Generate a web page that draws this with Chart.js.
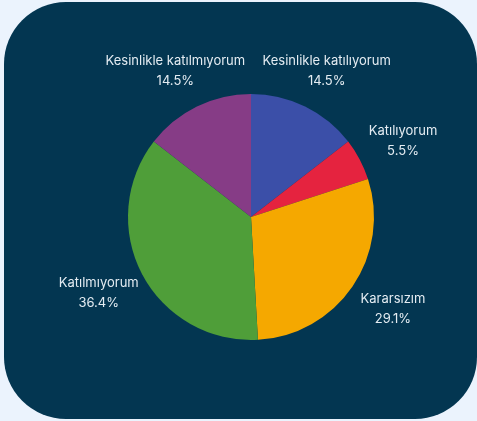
<!DOCTYPE html>
<html>
<head>
<meta charset="utf-8">
<script src="https://cdn.jsdelivr.net/npm/chart.js@4"></script>
<style>
  html, body { margin: 0; padding: 0; background: #ebf3fd; }
  #wrap { position: relative; width: 477px; height: 421px; overflow: hidden; }
  #card {
    position: absolute; left: 4px; top: 2px; width: 473px; height: 417px;
    background: #033651; border-radius: 62px;
  }
  #cv { position: absolute; left: 0; top: 0; }
</style>
</head>
<body>
<div id="wrap">
  <div id="card"></div>
  <canvas id="cv" width="477" height="421"></canvas>
</div>
<script>
const categories = [
  "Kesinlikle katılıyorum",
  "Katılıyorum",
  "Kararsızım",
  "Katılmıyorum",
  "Kesinlikle katılmıyorum"
];
const values = [14.5, 5.5, 29.1, 36.4, 14.5];
const colors = ["#3b4fa8", "#e5233f", "#f5a800", "#4f9e39", "#863c86"];

// labels outside each slice: name on top, percent under it
const outsideLabels = {
  id: "outsideLabels",
  afterDatasetsDraw(chart) {
    const ctx = chart.ctx;
    const arcs = chart.getDatasetMeta(0).data;
    ctx.save();
    ctx.fillStyle = "#e4ecf2";
    ctx.font = "13px Inter, 'Noto Sans', sans-serif";
    ctx.textAlign = "center";
    ctx.textBaseline = "middle";
    arcs.forEach((arc, i) => {
      const mid = (arc.startAngle + arc.endAngle) / 2;
      const x = arc.x + Math.cos(mid) * (arc.outerRadius + 49);
      const y = arc.y + Math.sin(mid) * (arc.outerRadius + 40);
      ctx.fillText(categories[i], x, y - 10);
      ctx.fillText(values[i].toFixed(1) + "%", x, y + 10);
    });
    ctx.restore();
  }
};

new Chart(document.getElementById("cv"), {
  type: "pie",
  data: {
    labels: categories,
    datasets: [{
      data: values,
      backgroundColor: colors,
      borderWidth: 0
    }]
  },
  options: {
    responsive: false,
    animation: false,
    layout: { padding: { left: 100, right: 75, top: 94, bottom: 81 } },
    plugins: {
      legend: { display: false },
      tooltip: { enabled: false }
    }
  },
  plugins: [outsideLabels]
});
</script>
</body>
</html>
